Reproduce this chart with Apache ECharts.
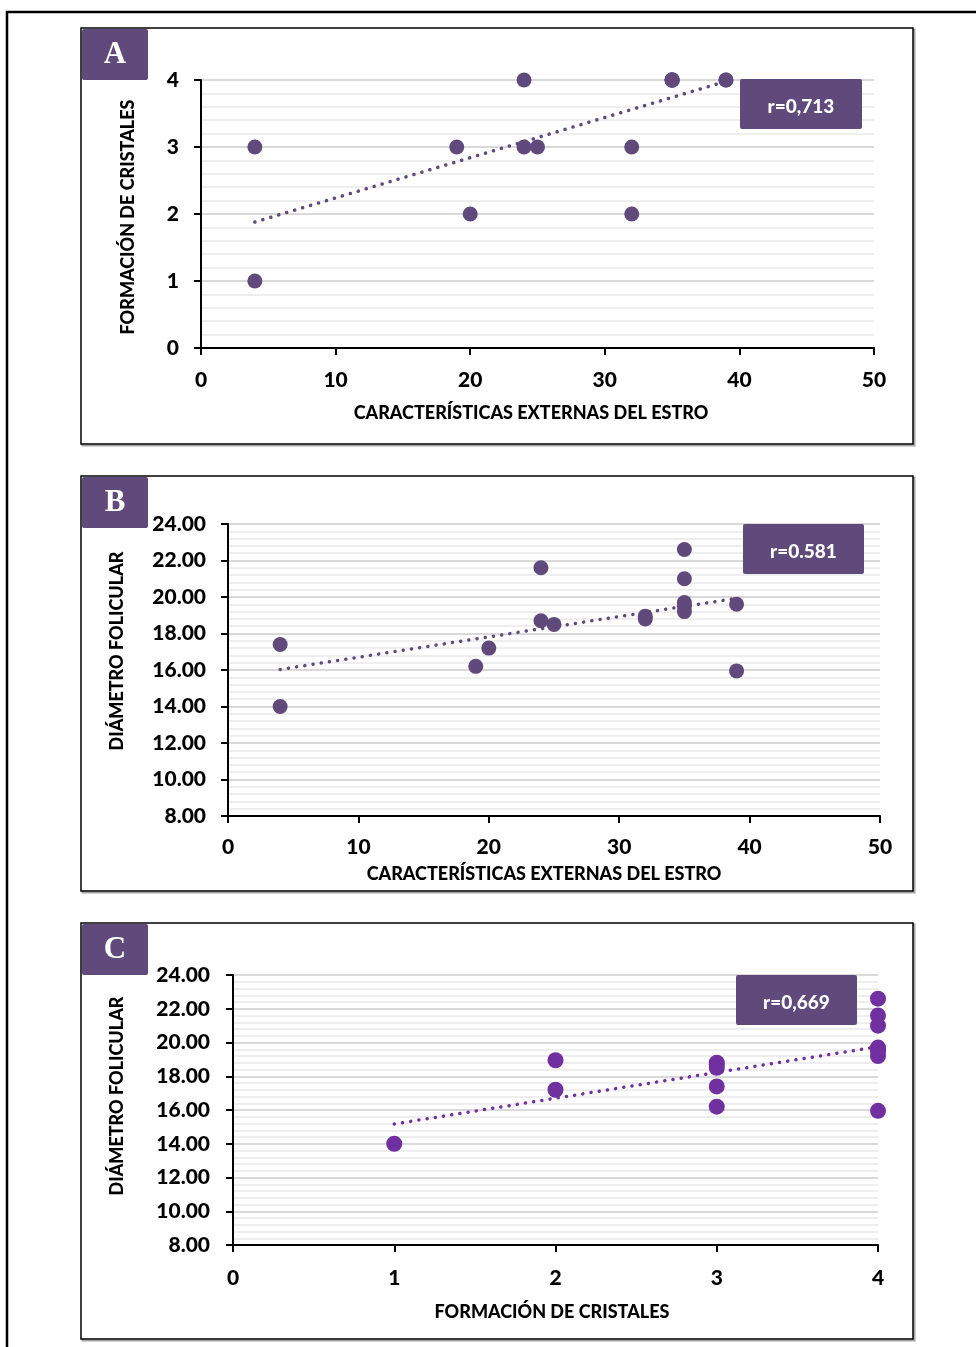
<!DOCTYPE html>
<html>
<head>
<meta charset="utf-8">
<script src="https://cdn.jsdelivr.net/npm/echarts@6/dist/echarts.min.js"></script>
<style>
  html, body { margin: 0; padding: 0; background: #fff; }
  #chart { width: 976px; height: 1347px; }
</style>
</head>
<body>
<div id="chart"></div>
<script>
// ---- data (one entry per animal) ----
const externalTraits = [4, 4, 19, 20, 24, 24, 25, 32, 32, 35, 35, 35, 35, 35, 39, 39];
const crystalFormation = [3, 1, 3, 2, 4, 3, 3, 2, 3, 4, 4, 4, 4, 4, 4, 4];
const follicleDiameter = [17.4, 14.0, 16.2, 17.2, 21.6, 18.7, 18.5, 18.95, 18.8, 22.6, 21.0, 19.7, 19.5, 19.2, 19.6, 15.95];

// trendline end points
const trendA = [[4, 1.88], [39, 3.98]];
const trendB = [[4, 16.03], [39, 19.93]];
const trendC = [[1, 15.17], [4, 19.75]];

const rLabels = ['r=0,713', 'r=0.581', 'r=0,669'];
const panelLetters = ['A', 'B', 'C'];
const titleExternal = 'CARACTERÍSTICAS EXTERNAS DEL ESTRO';
const titleCrystals = 'FORMACIÓN DE CRISTALES';
const titleDiameter = 'DIÁMETRO FOLICULAR';

const pairs = (xs, ys) => xs.map((x, i) => [x, ys[i]]);

const FONT = 'Lato';
const WEIGHT = 900;
const PURPLE = '#604a7b';
const PURPLE_C = '#7030a0';

function xAxis(gi, min, max, interval, margin) {
  return {
    type: 'value', gridIndex: gi, min, max, interval,
    axisLine: { show: true, onZero: false, lineStyle: { color: '#000', width: 2 } },
    axisTick: { show: true, inside: false, length: 7, lineStyle: { color: '#000', width: 2 } },
    axisLabel: { color: '#000', fontFamily: FONT, fontWeight: WEIGHT, fontSize: 21, margin },
    splitLine: { show: false }
  };
}
function yAxis(gi, min, max, interval, margin, decimals) {
  return {
    type: 'value', gridIndex: gi, min, max, interval,
    axisLine: { show: true, onZero: false, lineStyle: { color: '#000', width: 2 } },
    axisTick: { show: true, inside: false, length: 7, lineStyle: { color: '#000', width: 2 } },
    axisLabel: { color: '#000', fontFamily: FONT, fontWeight: WEIGHT, fontSize: 21, margin,
      formatter: v => v.toFixed(decimals) },
    splitLine: { show: true, lineStyle: { color: '#d9d9d9', width: 2 } },
    minorTick: { show: false, splitNumber: 5 },
    minorSplitLine: { show: true, lineStyle: { color: '#eeeeee', width: 2 } }
  };
}
function scatter(gi, data, color, size) {
  return { type: 'scatter', xAxisIndex: gi, yAxisIndex: gi, data, symbolSize: size,
    itemStyle: { color, opacity: 1 }, z: 3, silent: true };
}
function trend(gi, data, color) {
  return { type: 'line', xAxisIndex: gi, yAxisIndex: gi, data, showSymbol: false, symbol: 'none',
    lineStyle: { color, width: 3.5, type: [0.1, 8.2], cap: 'round' }, z: 4, silent: true };
}

const panels = [
  { x: 81, y: 28, w: 832, h: 416 },
  { x: 81, y: 476, w: 832, h: 415 },
  { x: 81, y: 923, w: 832, h: 416 }
];
const rBoxes = [
  { x: 740, y: 79, w: 122, h: 50 },
  { x: 743, y: 524, w: 121, h: 50 },
  { x: 736, y: 975, w: 121, h: 50 }
];

const graphics = [];
graphics.push({ type: 'rect', z: -20, shape: { x: 7, y: 12, width: 990, height: 1360 },
  style: { fill: '#fff', stroke: '#000', lineWidth: 2.5 } });
panels.forEach((p, i) => {
  graphics.push({ type: 'rect', z: -15, shape: { x: p.x + 1.5, y: p.y + 1.5, width: p.w, height: p.h },
    style: { fill: 'none', stroke: '#a6a6a6', lineWidth: 2 } });
  graphics.push({ type: 'rect', z: -14, shape: { x: p.x, y: p.y, width: p.w, height: p.h },
    style: { fill: '#fff', stroke: '#000', lineWidth: 1.5 } });
  graphics.push({ type: 'rect', z: 50, shape: { x: p.x + 1, y: p.y + 1, width: 66, height: 51, r: 2 },
    style: { fill: PURPLE } });
  graphics.push({ type: 'text', z: 51, x: p.x + 34, y: p.y + 27,
    style: { text: panelLetters[i], fill: '#fff', font: 'bold 31px "Liberation Serif"', align: 'center', verticalAlign: 'middle' } });
  const b = rBoxes[i];
  graphics.push({ type: 'rect', z: 50, shape: { x: b.x, y: b.y, width: b.w, height: b.h, r: 2 },
    style: { fill: PURPLE } });
  graphics.push({ type: 'text', z: 51, x: b.x + b.w / 2, y: b.y + b.h / 2 + 3,
    style: { text: rLabels[i], fill: '#fff', font: WEIGHT + ' 19px ' + FONT, align: 'center', verticalAlign: 'middle' } });
});
const titles = [
  { t: titleExternal, x: 531, y: 413, rot: 0 },
  { t: titleCrystals, x: 128, y: 217, rot: Math.PI / 2 },
  { t: titleExternal, x: 544, y: 874, rot: 0 },
  { t: titleDiameter, x: 117, y: 651, rot: Math.PI / 2 },
  { t: titleCrystals, x: 552, y: 1312, rot: 0 },
  { t: titleDiameter, x: 117, y: 1096, rot: Math.PI / 2 }
];
titles.forEach(o => graphics.push({ type: 'text', z: 20, x: o.x, y: o.y, rotation: o.rot,
  style: { text: o.t, fill: '#000', font: WEIGHT + ' 18px ' + FONT, align: 'center', verticalAlign: 'middle' } }));

const option = {
  animation: false,
  backgroundColor: '#fff',
  grid: [
    { left: 201, top: 80, width: 673, height: 268 },
    { left: 228, top: 524, width: 652, height: 292 },
    { left: 233, top: 975, width: 645, height: 270 }
  ],
  xAxis: [
    xAxis(0, 0, 50, 10, 22),
    xAxis(1, 0, 50, 10, 21),
    xAxis(2, 0, 4, 1, 23)
  ],
  yAxis: [
    yAxis(0, 0, 4, 1, 22, 0),
    yAxis(1, 8, 24, 2, 22, 2),
    yAxis(2, 8, 24, 2, 23, 2)
  ],
  series: [
    scatter(0, pairs(externalTraits, crystalFormation), PURPLE, 15),
    trend(0, trendA, PURPLE),
    scatter(1, pairs(externalTraits, follicleDiameter), PURPLE, 15),
    trend(1, trendB, PURPLE),
    scatter(2, pairs(crystalFormation, follicleDiameter), PURPLE_C, 16),
    trend(2, trendC, PURPLE_C)
  ],
  graphic: { elements: graphics }
};

const chart = echarts.init(document.getElementById('chart'), null, { renderer: 'canvas' });
chart.setOption(option);
</script>
</body>
</html>
